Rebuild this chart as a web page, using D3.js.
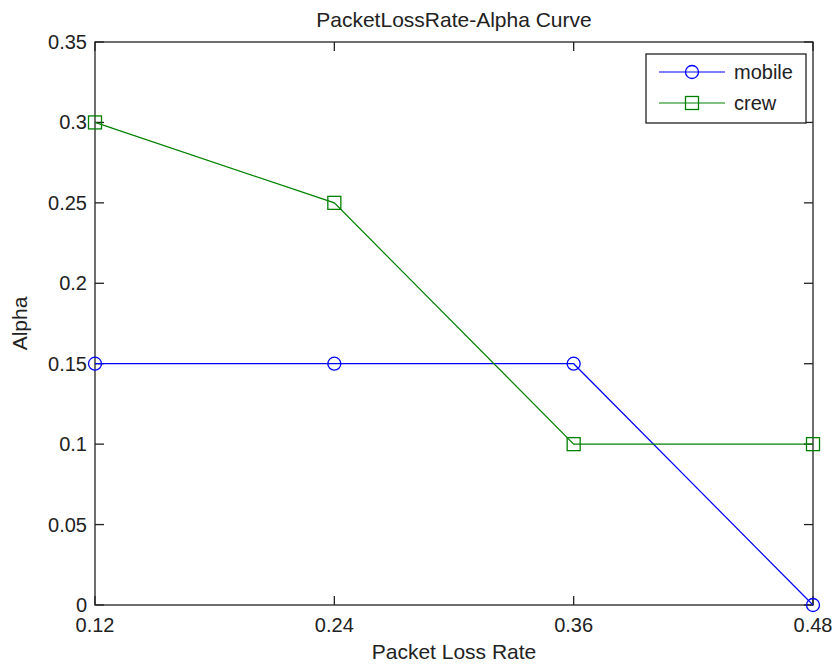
<!DOCTYPE html>
<html>
<head>
  <meta charset="utf-8">
  <title>PacketLossRate-Alpha Curve</title>
  <script src="https://cdnjs.cloudflare.com/ajax/libs/d3/7.6.1/d3.min.js"></script>
  <style>
    body { margin: 0; background: #fff; }
    text { font-family: 'Liberation Sans', Arial, sans-serif; fill: #222; }
  </style>
</head>
<body>
<svg width="839" height="668"></svg>
<script>

// --- data ---
let lossRates   = [0.12, 0.24, 0.36, 0.48];
let mobileAlpha = [0.15, 0.15, 0.15, 0];
let crewAlpha   = [0.30, 0.25, 0.10, 0.10];
let xTicks      = [0.12, 0.24, 0.36, 0.48];
let yTicks      = [0, 0.05, 0.1, 0.15, 0.2, 0.25, 0.3, 0.35];

let series = [
  {name: 'mobile', vals: mobileAlpha, color: '#0000ff', marker: 'circle'},
  {name: 'crew'  , vals: crewAlpha  , color: '#008000', marker: 'square'}
];

let svg = d3.select('svg');
let pLeft = 95, pRight = 813, pTop = 42, pBottom = 605;

let x = d3.scaleLinear().domain([0.12, 0.48]).range([pLeft, pRight]);
let y = d3.scaleLinear().domain([0, 0.35]).range([pBottom, pTop]);

// plot box
svg.append('rect')
   .attr('x', pLeft).attr('y', pTop)
   .attr('width', pRight - pLeft).attr('height', pBottom - pTop)
   .attr('fill', 'none').attr('stroke', '#222').attr('stroke-width', 1.3);

// ticks on all four sides, pointing inward
let tickLen = 9;
let fmt = d => d === 0 ? '0' : String(+d.toFixed(2));

let g = svg.append('g').attr('stroke', '#222').attr('stroke-width', 1.3);
xTicks.forEach(t => {
  g.append('line').attr('x1', x(t)).attr('x2', x(t)).attr('y1', pBottom).attr('y2', pBottom - tickLen);
  g.append('line').attr('x1', x(t)).attr('x2', x(t)).attr('y1', pTop).attr('y2', pTop + tickLen);
});
yTicks.forEach(t => {
  g.append('line').attr('y1', y(t)).attr('y2', y(t)).attr('x1', pLeft).attr('x2', pLeft + tickLen);
  g.append('line').attr('y1', y(t)).attr('y2', y(t)).attr('x1', pRight).attr('x2', pRight - tickLen);
});

svg.selectAll('.xlab').data(xTicks).enter()
   .append('text')
   .attr('x', d => x(d)).attr('y', 632)
   .attr('text-anchor', 'middle')
   .attr('font-size', 20)
   .text(fmt);

svg.selectAll('.ylab').data(yTicks).enter()
   .append('text')
   .attr('x', pLeft - 8).attr('y', d => y(d) + 7)
   .attr('text-anchor', 'end')
   .attr('font-size', 20)
   .text(fmt);

// titles
svg.append('text')
   .attr('x', (pLeft + pRight) / 2).attr('y', 27)
   .attr('text-anchor', 'middle').attr('font-size', 21)
   .text('PacketLossRate-Alpha Curve');

svg.append('text')
   .attr('x', (pLeft + pRight) / 2).attr('y', 659)
   .attr('text-anchor', 'middle').attr('font-size', 21)
   .text('Packet Loss Rate');

svg.append('text')
   .attr('transform', 'translate(27,' + ((pTop + pBottom) / 2) + ') rotate(-90)')
   .attr('text-anchor', 'middle').attr('font-size', 21)
   .text('Alpha');

// series
let line = d3.line().x((d, i) => x(lossRates[i])).y(d => y(d));

function drawMarker(sel, s, cx, cy) {
  if (s.marker === 'circle') {
    sel.append('circle').attr('cx', cx).attr('cy', cy).attr('r', 6.5)
       .attr('fill', 'none').attr('stroke', s.color).attr('stroke-width', 1.3);
  } else {
    sel.append('rect').attr('x', cx - 6.5).attr('y', cy - 6.5)
       .attr('width', 13).attr('height', 13)
       .attr('fill', 'none').attr('stroke', s.color).attr('stroke-width', 1.3);
  }
}

series.forEach(s => {
  svg.append('path')
     .attr('d', line(s.vals))
     .attr('fill', 'none').attr('stroke', s.color).attr('stroke-width', 1.2);
  s.vals.forEach((v, i) => drawMarker(svg, s, x(lossRates[i]), y(v)));
});

// legend
let leg = svg.append('g');
leg.append('rect')
   .attr('x', 646).attr('y', 54).attr('width', 160).attr('height', 69)
   .attr('fill', '#fff').attr('stroke', '#222').attr('stroke-width', 1.3);

series.forEach((s, i) => {
  let ly = 72 + i * 31;
  leg.append('line').attr('x1', 659).attr('x2', 725).attr('y1', ly).attr('y2', ly)
     .attr('stroke', s.color).attr('stroke-width', 1.2);
  drawMarker(leg, s, 692, ly);
  leg.append('text').attr('x', 734).attr('y', ly + 7).attr('font-size', 20).text(s.name);
});

</script>
</body>
</html>
